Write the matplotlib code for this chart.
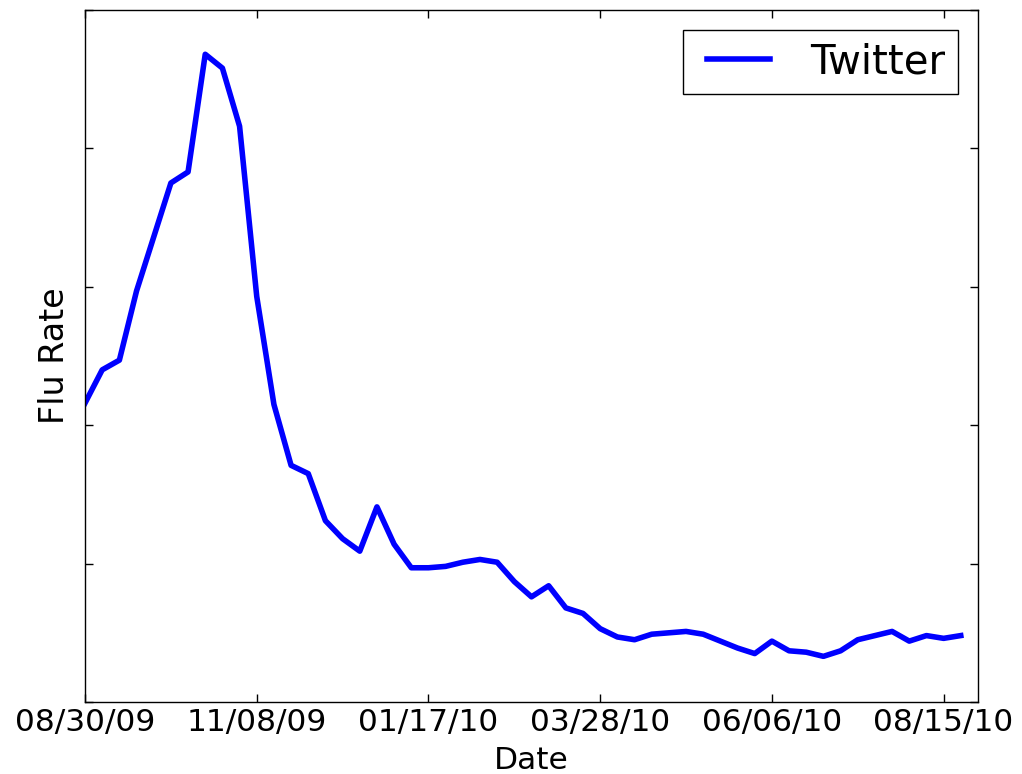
import datetime as dt
import numpy as np
import pandas as pd
import matplotlib
matplotlib.use('Agg')
import matplotlib.pyplot as plt
import matplotlib.dates as mdates

# weekly flu rate estimate from tweets, Sundays starting 08/30/09
start_date = '2009-08-30'
flu_rate = [2.16, 2.40, 2.47, 2.97, 3.36, 3.75, 3.83, 4.68, 4.58, 4.16,
            2.93, 2.15, 1.71, 1.65, 1.31, 1.18, 1.09, 1.41, 1.14, 0.97,
            0.97, 0.98, 1.01, 1.03, 1.01, 0.87, 0.76, 0.84, 0.68, 0.64,
            0.53, 0.47, 0.45, 0.49, 0.50, 0.51, 0.49, 0.44, 0.39, 0.35,
            0.44, 0.37, 0.36, 0.33, 0.37, 0.45, 0.48, 0.51, 0.44, 0.48,
            0.46, 0.48]
tick_labels = ['08/30/09', '11/08/09', '01/17/10', '03/28/10', '06/06/10', '08/15/10']
y_ticks = [0, 1, 2, 3, 4, 5]

weeks = pd.date_range(start_date, periods=len(flu_rate), freq='7D')
tick_dates = [dt.datetime.strptime(s, '%m/%d/%y') for s in tick_labels]

fig = plt.figure(figsize=(10.22, 7.74), dpi=100)
ax = fig.add_axes([0.0832, 0.0930, 0.8737, 0.8941])

ax.plot(weeks, flu_rate, color='#0000ff', lw=4, label='Twitter')

ax.set_xlim(dt.datetime(2009, 8, 30), dt.datetime(2010, 8, 29))
ax.set_ylim(0, 5)
ax.set_xticks([mdates.date2num(d) for d in tick_dates])
ax.set_xticklabels(tick_labels)
ax.set_yticks(y_ticks)
ax.set_yticklabels([])
ax.minorticks_off()

ax.tick_params(direction='in', length=6, width=1, labelsize=22.5, pad=4,
               top=True, right=True, colors='black')
for sp in ax.spines.values():
    sp.set_linewidth(1.0)

ax.set_xlabel('Date', fontsize=22.5)
ax.set_ylabel('Flu Rate', fontsize=24)
ax.xaxis.set_label_coords(0.5, -0.064)
ax.yaxis.set_label_coords(-0.016, 0.5)

# old-style legend: two-point handle, square black frame
leg = ax.legend(loc='upper right', fontsize=29, fancybox=False, framealpha=1,
                edgecolor='black', numpoints=2, handlelength=2.14,
                handletextpad=0.72, borderpad=0.3, borderaxespad=0.5)
leg.get_frame().set_linewidth(1.0)

fig.savefig('out.png', dpi=100)
